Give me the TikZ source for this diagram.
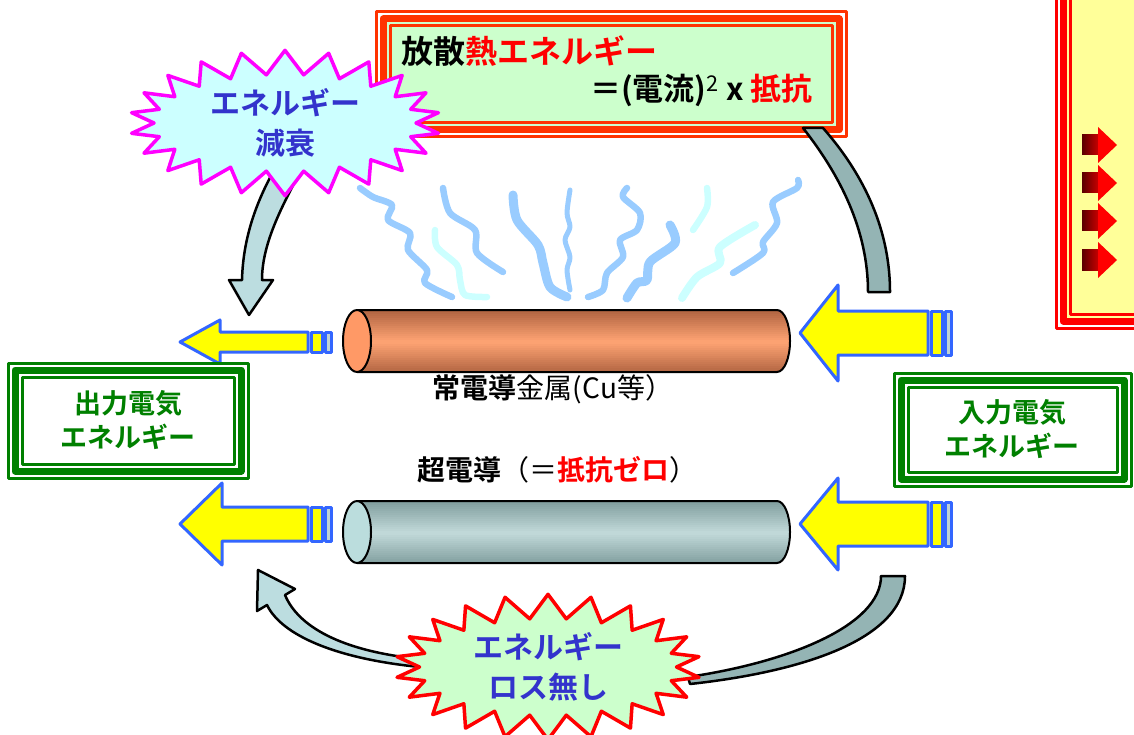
\documentclass[tikz,border=0pt]{standalone}
\usepackage{fontspec}
\setmainfont{Noto Sans CJK JP}[BoldFont=* Bold]
\usetikzlibrary{shapes.symbols}

\definecolor{heatred}{HTML}{FF3300}
\definecolor{heatfill}{HTML}{CCFFCC}
\definecolor{panelfill}{HTML}{FFFF99}
\definecolor{burstblue}{HTML}{3333CC}
\definecolor{burstcyan}{HTML}{CCFFFF}
\definecolor{burstpink}{HTML}{FF00FF}
\definecolor{pureyellow}{HTML}{FFFF00}
\definecolor{purered}{HTML}{FF0000}
\definecolor{boxgreen}{HTML}{008000}
\definecolor{arrowblue}{HTML}{3366FF}
\definecolor{waveblue}{HTML}{99CCFF}
\definecolor{wavecyan}{HTML}{CCFFFF}
\definecolor{flowlight}{HTML}{BCDDE0}
\definecolor{flowgray}{HTML}{94B4B4}
\definecolor{cudark}{HTML}{AE6240}
\definecolor{culight}{HTML}{FFA474}
\definecolor{cuend}{HTML}{FF9966}
\definecolor{scdark}{HTML}{7E9C9C}
\definecolor{sclight}{HTML}{C2DADA}
\definecolor{scend}{HTML}{BBDDDD}
\definecolor{darkmaroon}{HTML}{5A0000}

% three ruled frame: x1,y1,x2,y2,colour,inner fill
\newcommand\ruledframe[6]{%
  \fill[white] (#1,#2) rectangle (#3,#4);
  \fill[#6] (#1+7,#2+7) rectangle (#3-7,#4-7);
  \draw[#5,line width=3] (#1,#2) rectangle (#3,#4);
  \draw[#5,line width=7] (#1+7,#2+7) rectangle (#3-7,#4-7);
  \draw[#5,line width=3] (#1+14,#2+14) rectangle (#3-14,#4-14);
}

% rod with a bright band along its middle: top y, dark, light, end colour
\newcommand\rod[4]{%
  \begin{scope}
    \clip (357,#1) -- (777,#1) arc (-90:90:13 and 31) -- (357,#1+62) -- cycle;
    \foreach \k in {0,...,31}{
      \pgfmathtruncatemacro\p{100*abs(\k-15.5)/16}
      \fill[#2!\p!#3] (340,#1+2*\k) rectangle (800,#1+2*\k+2.5);
    }
  \end{scope}
  \draw[black,line width=2pt] (357,#1) -- (777,#1) arc (-90:90:13 and 31) -- (357,#1+62);
  \filldraw[fill=#4,draw=black,line width=2pt] (357,#1+31) ellipse (14 and 31);
}

\begin{document}
\begin{tikzpicture}[x=1pt,y=-1pt,line join=round,
  burst/.style={starburst,starburst points=22,starburst point height=24pt,random starburst=0,
    line width=3.5pt,align=center,inner sep=0pt,font=\bfseries\fontsize{30}{40}\selectfont,text=burstblue},
  bluearrow/.style={fill=pureyellow,draw=arrowblue,line width=3pt},
  greentext/.style={align=center,text=boxgreen,font=\bfseries\fontsize{27}{34}\selectfont},
  flow/.style={draw=black,line width=2.5pt},
  wave/.style={line width=6.5pt,line cap=round}]

\useasboundingbox (0,0) rectangle (1134,735);

% side panel with red pointers
\ruledframe{1056}{-40}{1170}{328}{purered}{panelfill}
\foreach \c in {145,183,221,260}{
  \shade[left color=darkmaroon,right color=purered!80!black] (1082,\c-10) rectangle (1099,\c+10);
  \fill[purered] (1098,\c-18) -- (1117,\c) -- (1098,\c+18) -- cycle;
}

% heat box
\ruledframe{376}{12}{846}{137}{heatred}{heatfill}
\node[anchor=west,font=\bfseries\fontsize{32}{36}\selectfont] (heatA) at (398,51)
  {放散{\color{purered}熱エネルギー}};
\node[anchor=east,font=\bfseries\fontsize{31}{36}\selectfont] (heatB) at (816,90)
  {＝(電流)\textsuperscript{\mdseries 2} x {\color{purered}抵抗}};

% rising heat
\draw[wave,waveblue] plot[smooth] coordinates {(360,188) (373,197) (392,205) (388,220) (410,233) (408,250) (427,270) (425,283) (452,297)};
\draw[wave,wavecyan] plot[smooth] coordinates {(435,230) (437,247) (457,265) (460,280) (465,295) (487,297)};
\draw[wave,waveblue] plot[smooth] coordinates {(443,188) (450,213) (475,230) (477,253) (503,272)};
\draw[wave,waveblue,line width=9pt] plot[smooth] coordinates {(513,195) (517,220) (538,245) (543,263) (550,287) (567,297)};
\draw[wave,waveblue,line width=5pt] plot[smooth] coordinates {(570,190) (567,213) (570,227) (565,240) (570,257) (567,270) (570,290)};
\draw[wave,waveblue] plot[smooth] coordinates {(627,188) (623,197) (640,213) (637,230) (620,240) (623,257) (607,273) (603,290) (588,297)};
\draw[wave,waveblue,line width=9pt] plot[smooth] coordinates {(670,225) (675,243) (650,262) (647,280) (637,283) (627,298)};
\draw[wave,wavecyan] plot[smooth] coordinates {(707,188) (707,207) (693,230)};
\draw[wave,wavecyan,line width=8pt] plot[smooth] coordinates {(755,225) (720,247) (720,263) (697,277) (682,298)};
\draw[wave,waveblue] plot[smooth] coordinates {(798,180) (797,188) (773,202) (777,223) (763,242) (763,253) (733,273)};

% energy flow bands
\filldraw[flow,fill=flowlight] (300,172) .. controls (280,210) and (262,245) .. (262,280)
  -- (273,280) -- (249,315) -- (229,280) -- (242,280)
  .. controls (243,240) and (255,205) .. (273,172) -- cycle;
\filldraw[flow,fill=flowgray] (803,128) .. controls (840,175) and (868,230) .. (868,292)
  -- (890,292) .. controls (890,225) and (860,170) .. (823,128) -- cycle;
\filldraw[flow,fill=flowgray] (881,576) -- (905,576) .. controls (905,640) and (800,672) .. (690,684)
  -- (688,677) .. controls (790,662) and (881,625) .. (881,576) -- cycle;
\filldraw[flow,fill=flowlight] (420,659) .. controls (340,651) and (298,626) .. (285,595)
  -- (295,589) -- (258,570) -- (257,611) -- (267,605)
  .. controls (282,636) and (338,659) .. (420,667) -- cycle;

% bursts
\node[burst,draw=burstpink,fill=burstcyan,minimum width=310pt,minimum height=133pt] (decay) at (285,123)
  {エネルギー\\減衰};
\node[burst,draw=purered,fill=heatfill,minimum width=305pt,minimum height=128pt] (noloss) at (548,667)
  {エネルギー\\ロス無し};

% conductors
\rod{310}{cudark}{culight}{cuend}
\rod{501}{scdark}{sclight}{scend}

\node[font=\fontsize{28}{32}\selectfont] (culabel) at (553,389) {{\bfseries 常電導}金属(Cu等）};
\node[font=\fontsize{28}{32}\selectfont] (sclabel) at (557,470)
  {{\bfseries 超電導}（＝{\bfseries\color{purered}抵抗ゼロ}）};

% power arrows
\foreach \tx/\cy/\hh/\bh/\hl in {800/333/48/22/38, 800/524/46/22/38, 180/342/22/10/40, 180/524/41/17/42}{
  \filldraw[bluearrow] (\tx,\cy) -- (\tx+\hl,\cy-\hh) -- (\tx+\hl,\cy-\bh) -- (\tx+128,\cy-\bh)
    -- (\tx+128,\cy+\bh) -- (\tx+\hl,\cy+\bh) -- (\tx+\hl,\cy+\hh) -- cycle;
  \filldraw[bluearrow] (\tx+131,\cy-\bh) rectangle (\tx+142,\cy+\bh);
  \filldraw[bluearrow,fill=flowgray!60] (\tx+145,\cy-\bh) rectangle (\tx+151,\cy+\bh);
}

% energy boxes
\ruledframe{8}{363}{248}{478}{boxgreen}{white}
\node[greentext] (outE) at (128,420) {出力電気\\エネルギー};
\ruledframe{894}{373}{1131}{486}{boxgreen}{white}
\node[greentext] (inE) at (1012,429) {入力電気\\エネルギー};
\end{tikzpicture}
\end{document}
